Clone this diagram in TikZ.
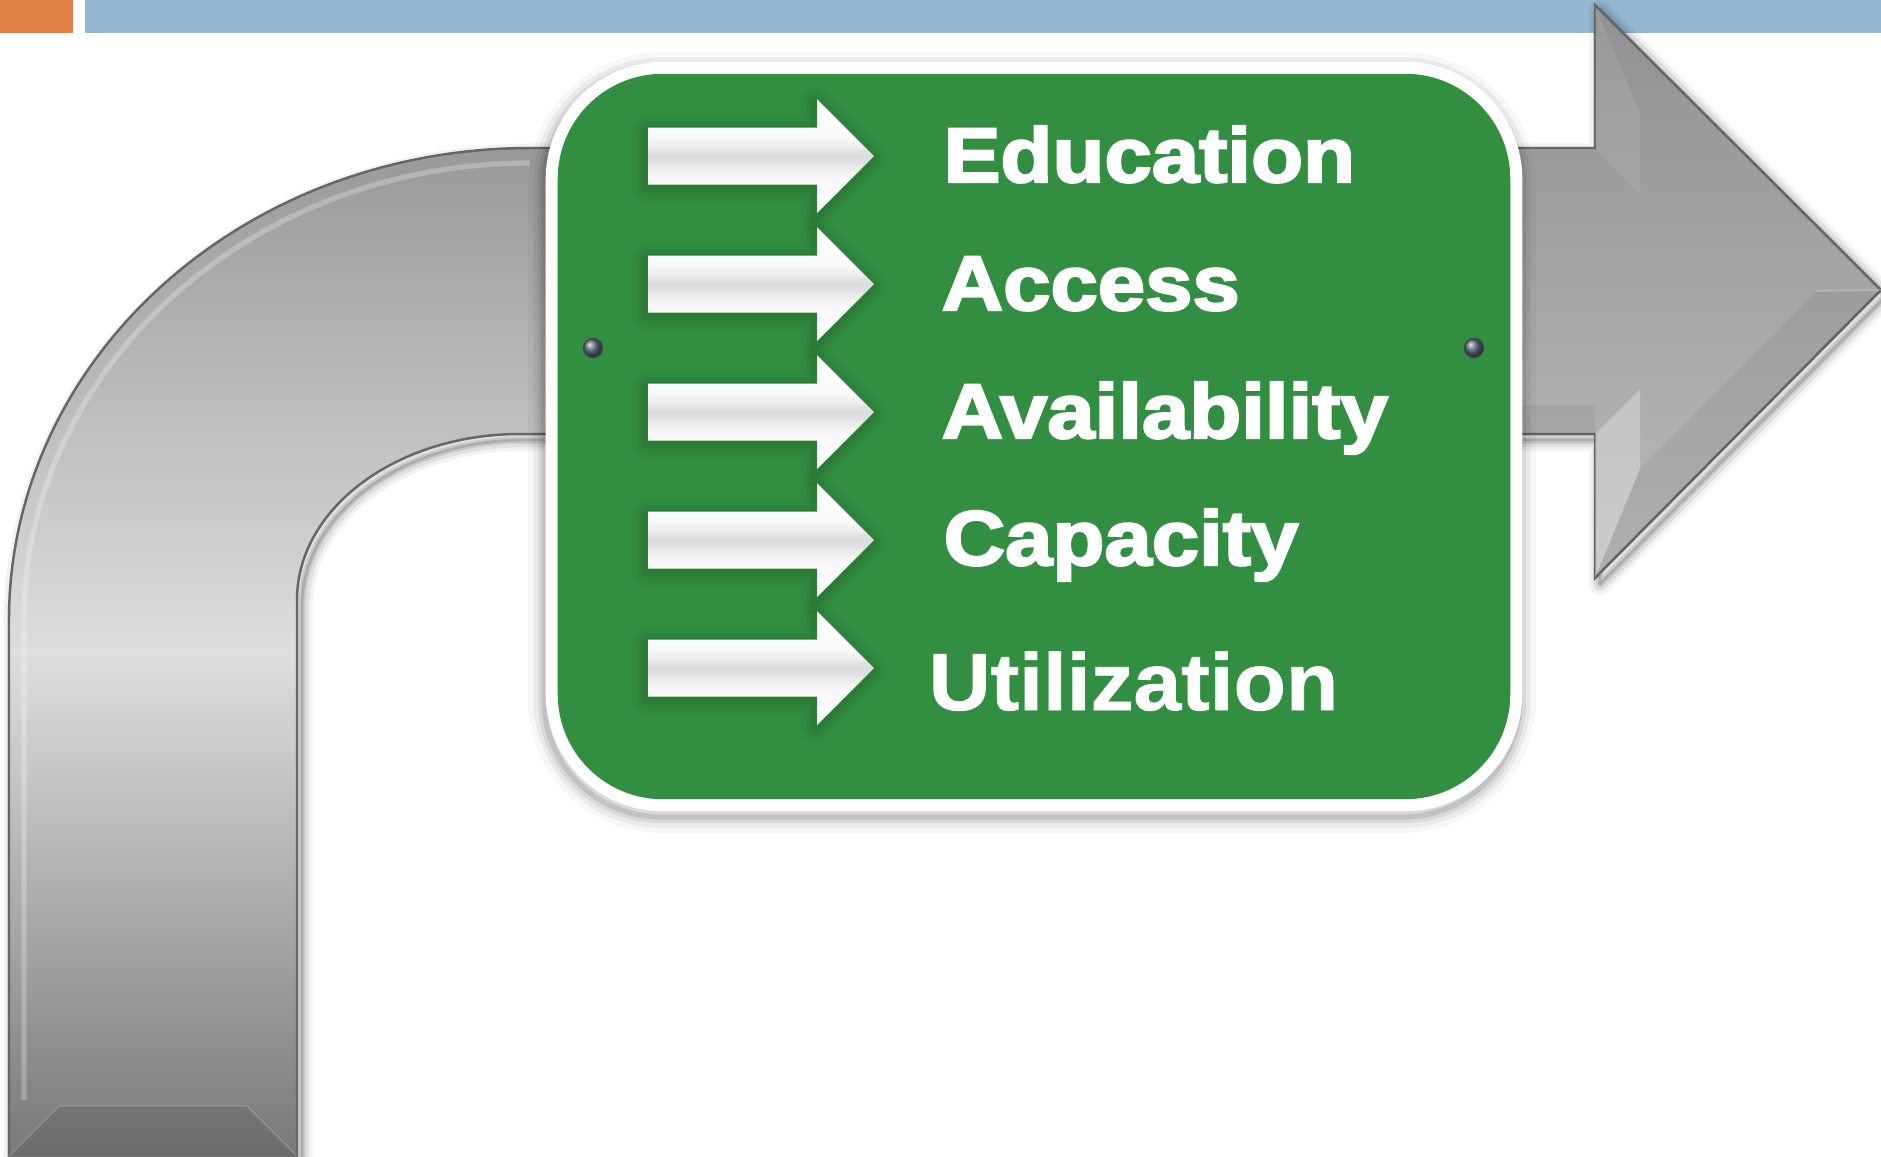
\documentclass[tikz,border=0pt]{standalone}
\usepackage{fontspec}
\newfontfamily\signfont[FakeStretch=1.1,FakeBold=3]{Liberation Sans Bold}
\newfontfamily\utilfont[FakeStretch=1.06,FakeBold=1]{Liberation Sans Bold}
\definecolor{orangebar}{RGB}{224,128,70}
\definecolor{bluebar}{RGB}{148,182,211}
\definecolor{signgreen}{RGB}{50,142,65}
\definecolor{darkgreen}{RGB}{18,60,25}
\definecolor{gtop}{gray}{0.60}
\definecolor{gmid}{gray}{0.87}
\definecolor{gbot}{gray}{0.47}
\definecolor{htop}{gray}{0.57}
\definecolor{hbot}{gray}{0.73}
\definecolor{screw}{RGB}{95,108,125}
\definecolor{edgegray}{gray}{0.40}
\definecolor{band}{gray}{0.86}
\definecolor{nearwhite}{gray}{0.975}
\pgfdeclareverticalshading{arrowshade}{100bp}{color(0bp)=(white); color(25bp)=(white); color(40bp)=(nearwhite); color(50bp)=(band); color(58bp)=(nearwhite); color(75bp)=(white); color(100bp)=(white)}
\tikzset{
  bentL/.style={insert path={(9,1160) -- (9,620) .. controls (9,359) and (242,148) .. (530,148) -- (990,148) -- (990,434) -- (520,434) .. controls (397,434) and (297,508) .. (297,600) -- (297,1160) -- cycle}},
  bentR/.style={insert path={(990,148) -- (1595,148) -- (1595,5) -- (1881,290) -- (1595,578) -- (1595,434) -- (990,434) -- cycle}},
  smallarrow/.style={insert path={(648,-28.5) -- (817,-28.5) -- (817,-57) -- (874,0) -- (817,57) -- (817,28.5) -- (648,28.5) -- cycle}},
  signtext/.style={text=white, anchor=base west, inner sep=0pt, font=\signfont\fontsize{22}{22}\selectfont},
  utiltext/.style={text=white, anchor=base west, inner sep=0pt, font=\utilfont\fontsize{23}{23}\selectfont},
  screwdot/.style={circle, minimum size=0.19cm, inner sep=0pt, ball color=screw, draw=black!75, line width=0.3pt},
}
\begin{document}
\begin{tikzpicture}[x=0.01cm,y=-0.01cm]
\useasboundingbox (0,0) rectangle (1881,1156);
\fill[white] (0,0) rectangle (1881,1156);
\clip (0,0) rectangle (1881,1156);

% top bars
\fill[orangebar] (0,0) rectangle (73,33);
\fill[bluebar] (85,0) rectangle (1881,33);

% shadows of the big bent arrow
\begin{scope}[shift={(5,6)}]
  \foreach \lw/\op in {6pt/0.05,4pt/0.07,2pt/0.1,0.8pt/0.14}{
    \draw[black, opacity=\op, line width=\lw, line join=round, bentL];
    \draw[black, opacity=\op, line width=\lw, line join=round, bentR];
  }
\end{scope}

% big bent arrow
\shade[top color=gtop, bottom color=gbot, middle color=gmid, bentL];
\draw[edgegray, line width=0.7pt, bentL];
\shade[top color=htop, bottom color=hbot, bentR];
\draw[edgegray, line width=0.7pt, line join=miter, bentR];
% bevel facets of head
\fill[white, opacity=0.28] (1595,434) -- (1640,389) -- (1640,469) -- (1595,578) -- cycle;
\fill[white, opacity=0.08] (1595,5) -- (1595,148) -- (1640,193) -- (1640,114) -- cycle;
\fill[black, opacity=0.05] (1595,578) -- (1881,290) -- (1817,291) -- (1640,469) -- cycle;
\draw[white, opacity=0.2, line width=0.5pt] (1817,291) -- (1881,290);
% soft bevels
\fill[black, opacity=0.05] (1522,405) rectangle (1595,434);
\fill[black, opacity=0.10] (9,1156) -- (59,1106) -- (247,1106) -- (297,1156) -- cycle;
\draw[white, opacity=0.15, line width=0.5pt] (9,1156) -- (59,1106) -- (247,1106) -- (297,1156);
\draw[white, opacity=0.25, line width=1.5pt] (24,1100) -- (24,620) .. controls (24,368) and (250,163) .. (530,163);

% shadow of the sign
\begin{scope}[shift={(-2,6)}]
  \foreach \lw/\op in {9pt/0.03,6pt/0.05,3.5pt/0.07,1.5pt/0.1}{
    \draw[black, opacity=\op, line width=\lw, rounded corners=1.17cm] (546,62) rectangle (1522,811);
  }
\end{scope}

% the sign
\node[draw=none, fill=white, rounded corners=1.17cm, minimum width=9.76cm, minimum height=7.49cm, inner sep=0pt] (signout) at (1034,436.5) {};
\node[draw=none, fill=signgreen, rounded corners=1.05cm, minimum width=9.52cm, minimum height=7.25cm, inner sep=0pt] (sign) at (1034,436.5) {};

% screws
\node[screwdot] (screwL) at (593,348) {};
\node[screwdot] (screwR) at (1474,348) {};

% small white arrows
\foreach \c in {156,284,412,540,668}{
  \begin{scope}[shift={(0,\c)}]
    \begin{scope}[shift={(-2,3)}]
      \foreach \lw/\op in {8pt/0.05,5pt/0.07,2.5pt/0.09}{
        \draw[darkgreen, opacity=\op, line width=\lw, line join=round, smallarrow];
      }
    \end{scope}
    \shade[shading=arrowshade, smallarrow];
  \end{scope}
}

% texts
\node[signtext] (tEdu) at (943,182) {Education};
\node[signtext] (tAcc) at (941,310) {Access};
\node[signtext] (tAva) at (941,438) {Availability};
\node[signtext] (tCap) at (943,565) {Capacity};
\node[utiltext] (tUti) at (928,710) {Utilization};
\end{tikzpicture}
\end{document}
